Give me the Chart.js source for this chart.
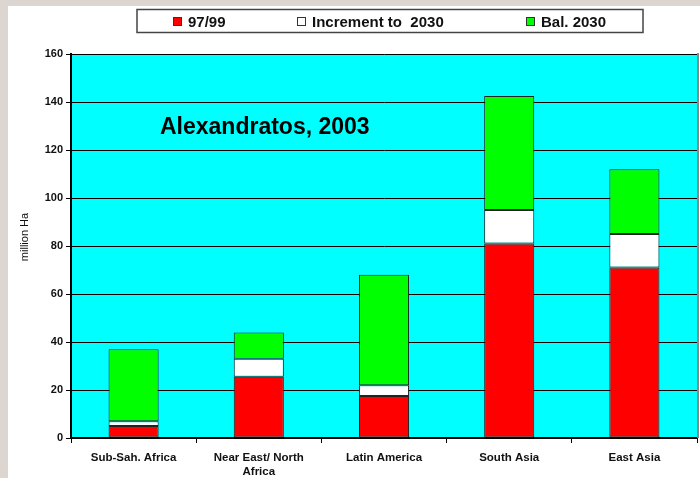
<!DOCTYPE html>
<html>
<head>
<meta charset="utf-8">
<script src="https://cdn.jsdelivr.net/npm/chart.js@4.4.1/dist/chart.umd.min.js"></script>
<style>
  html, body { margin: 0; padding: 0; background: #ffffff; }
  #wrap { position: relative; width: 700px; height: 478px; }
</style>
</head>
<body>
<div id="wrap"><canvas id="c" width="700" height="478"></canvas></div>
<script>
// ---- data ----
const categories = ['Sub-Sah. Africa', ['Near East/ North', 'Africa'], 'Latin America', 'South Asia', 'East Asia'];
const base9799 = [5, 25.5, 17.5, 81, 71];
const increment2030 = [2, 7.5, 4.5, 14, 14];
const balance2030 = [30, 11, 46, 47.5, 27];
const seriesLabels = ['97/99', 'Increment to  2030', 'Bal. 2030'];
const yTicks = [0, 20, 40, 60, 80, 100, 120, 140, 160];
const chartTitle = 'Alexandratos, 2003';
const yAxisTitle = 'million Ha';

const FONT = '"Liberation Sans", Arial, sans-serif';

const framePlugin = {
  id: 'frame',
  beforeDraw(chart) {
    const { ctx, chartArea: a } = chart;
    ctx.save();
    ctx.fillStyle = '#ffffff';
    ctx.fillRect(0, 0, chart.width, chart.height);
    ctx.fillStyle = '#ddd6d0';
    ctx.fillRect(0, 0, 8, chart.height);
    ctx.fillRect(0, 0, chart.width, 6);
    ctx.fillStyle = '#00ffff';
    ctx.fillRect(a.left, a.top, a.right - a.left, a.bottom - a.top);
    ctx.restore();
  },
  afterDraw(chart) {
    const { ctx, chartArea: a } = chart;
    ctx.save();
    // right border of plot area
    ctx.strokeStyle = '#888888';
    ctx.lineWidth = 2;
    ctx.beginPath();
    ctx.moveTo(a.right + 1, a.top - 1);
    ctx.lineTo(a.right + 1, a.bottom);
    ctx.stroke();
    // y axis title
    ctx.save();
    ctx.translate(25, 237);
    ctx.rotate(-Math.PI / 2);
    ctx.fillStyle = '#111111';
    ctx.font = '11px ' + FONT;
    ctx.textAlign = 'center';
    ctx.textBaseline = 'middle';
    ctx.fillText(yAxisTitle, 0, 0);
    ctx.restore();
    // title inside the plot
    ctx.fillStyle = '#000000';
    ctx.font = 'bold 23px ' + FONT;
    ctx.textBaseline = 'alphabetic';
    ctx.textAlign = 'left';
    ctx.fillText(chartTitle, 160, 134);
    // legend box
    ctx.strokeStyle = '#444444';
    ctx.lineWidth = 1.5;
    ctx.fillStyle = '#ffffff';
    ctx.fillRect(137, 9.5, 506, 23);
    ctx.strokeRect(137, 9.5, 506, 23);
    const itemX = [173, 297, 526];
    ctx.font = 'bold 15px ' + FONT;
    chart.data.datasets.forEach((ds, i) => {
      const x = itemX[i];
      ctx.fillStyle = ds.backgroundColor;
      ctx.fillRect(x, 17, 9, 9);
      ctx.strokeStyle = '#333333';
      ctx.lineWidth = 1;
      ctx.strokeRect(x + 0.5, 17.5, 8, 8);
      ctx.fillStyle = '#111111';
      ctx.textBaseline = 'alphabetic';
      ctx.fillText(ds.label, x + 15, 26.5);
    });
    ctx.restore();
  }
};

new Chart(document.getElementById('c'), {
  type: 'bar',
  data: {
    labels: categories,
    datasets: [
      { label: seriesLabels[0], data: base9799, backgroundColor: '#ff0000' },
      { label: seriesLabels[1], data: increment2030, backgroundColor: '#ffffff' },
      { label: seriesLabels[2], data: balance2030, backgroundColor: '#00ff00' }
    ].map(d => Object.assign(d, {
      borderColor: '#222222', borderWidth: 1, borderSkipped: false,
      categoryPercentage: 1.0, barPercentage: 0.4
    }))
  },
  options: {
    responsive: false,
    animation: false,
    devicePixelRatio: 1,
    layout: { padding: { left: 0, right: 3, top: 54, bottom: 0 } },
    plugins: { legend: { display: false }, tooltip: { enabled: false }, title: { display: false } },
    scales: {
      x: {
        stacked: true,
        grid: { display: true, drawOnChartArea: false, drawTicks: true, tickLength: 5, color: '#000000', offset: true },
        border: { display: true, color: '#000000', width: 2 },
        ticks: { color: '#111111', font: { family: FONT, size: 11.5, weight: 'bold' }, padding: 8, maxRotation: 0, autoSkip: false },
        afterFit(s) { s.height = 40; }
      },
      y: {
        stacked: true,
        min: 0, max: 160,
        afterBuildTicks(s) { s.ticks = yTicks.map(v => ({ value: v })); },
        grid: { color: '#000000', lineWidth: 1, drawTicks: true, tickLength: 5 },
        border: { display: true, color: '#000000', width: 2 },
        ticks: { color: '#111111', font: { family: FONT, size: 11, weight: 'bold' }, padding: 3 },
        afterFit(s) { s.width = 71; }
      }
    }
  },
  plugins: [framePlugin]
});
</script>
</body>
</html>
